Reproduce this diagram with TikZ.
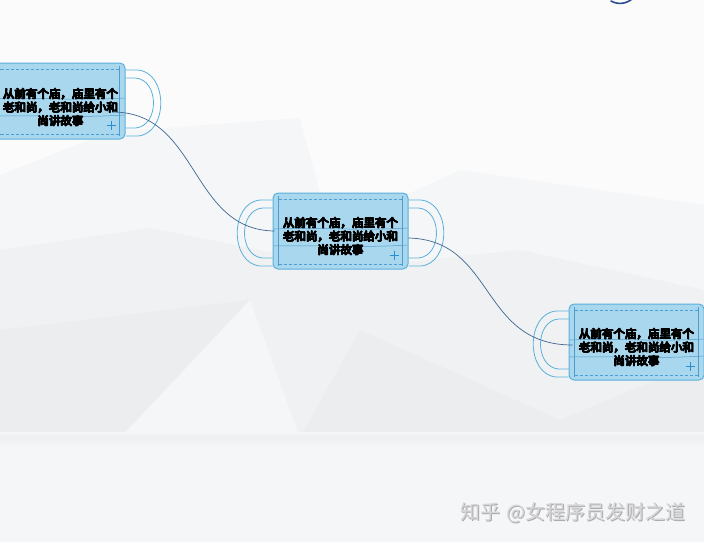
\documentclass[tikz,border=0pt]{standalone}
\usepackage{fontspec}
\setmainfont{Noto Sans CJK SC}
\newfontfamily\maskfont{Noto Sans CJK SC}[FakeBold=4]
\usetikzlibrary{calc}
\newcommand\heavytext[1]{\rlap{#1}\rlap{\raisebox{0.4pt}{#1}}\rlap{\hspace{0.25pt}\raisebox{0.2pt}{#1}}\kern0.5pt#1}
\definecolor{maskfill}{HTML}{A9D7EE}
\definecolor{maskline}{HTML}{5AB0DC}
\definecolor{dashc}{HTML}{4A9FD4}
\definecolor{pleatc}{HTML}{4F9CCB}
\definecolor{plusc}{HTML}{2A8FD0}
\definecolor{linkc}{HTML}{3E6690}
\definecolor{bgtop}{HTML}{FBFBFC}
\definecolor{bgA}{HTML}{F5F6F7}
\definecolor{bgB}{HTML}{F0F1F2}
\definecolor{bgC}{HTML}{ECEDEF}
\definecolor{bgbottom}{HTML}{F5F6F8}
\definecolor{logoc}{HTML}{2A4A90}
\definecolor{wmc}{HTML}{D6D6D8}
\definecolor{wmshadow}{HTML}{ABABAD}
\newcommand\maskdeco[1]{%
  \begin{scope}[shift={(#1.center)}]
    \draw[dashln] (-62,-32) -- (62,-32);
    \draw[dashln] (-62,33) -- (62,33);
    \draw[pleat] (-62,-35) -- (-62,35);
    \draw[pleat] (62,-35) -- (62,35);
    \draw[pleat] (-67,-2) .. controls (-20,-4) and (20,0) .. (67,-3);
    \draw[pleat] (-67,15) .. controls (-20,14) and (20,17) .. (67,14);
    \draw[plusline] (49,24) -- (58,24);
    \draw[plusline] (53.5,19.5) -- (53.5,28.5);
  \end{scope}}
\newcommand\earpath{%
  \draw[ear] (0,-31) -- (12,-31) .. controls (43,-29) and (43,33) .. (12,35) -- (0,35);
  \draw[ear] (0,-23) -- (10,-23) .. controls (34,-21) and (34,25) .. (10,27) -- (0,27);}
\newcommand\rightear[1]{\begin{scope}[shift={(#1.east)}]\earpath\end{scope}}
\newcommand\leftear[1]{\begin{scope}[shift={(#1.west)},xscale=-1]\earpath\end{scope}}
\newcommand\storytext{\heavytext{从前有个庙，庙里有个}\\\heavytext{老和尚，老和尚给小和}\\\heavytext{尚讲故事}}
\begin{document}
\begin{tikzpicture}[x=1pt,y=-1pt,
  maskbody/.style={draw=maskline, line width=1pt, fill=maskfill, rounded corners=5pt,
    minimum width=135pt, minimum height=76pt, inner sep=0pt},
  masktext/.style={font=\maskfont\fontsize{11.5}{13.5}\selectfont, align=center, inner sep=0pt, text=black},
  ear/.style={draw=maskline, line width=0.8pt},
  dashln/.style={draw=dashc, dash pattern=on 3pt off 2pt, line width=0.6pt},
  pleat/.style={draw=pleatc, line width=0.5pt},
  plusline/.style={draw=plusc, line width=1pt},
  link/.style={draw=linkc, line width=0.7pt},
]
\useasboundingbox (0,0) rectangle (704,542);
\clip (0,0) rectangle (704,542);
% background
\fill[bgbottom] (0,0) rectangle (704,542);
\fill[bgtop] (0,0) rectangle (704,438);
\fill[bgA] (0,175) -- (110,132) -- (300,118) -- (460,170) -- (704,205) -- (704,438) -- (0,438) -- cycle;
\fill[bgB] (0,250) -- (150,228) -- (350,268) -- (520,250) -- (704,290) -- (704,438) -- (0,438) -- cycle;
\fill[bgC] (0,330) -- (250,300) -- (120,438) -- (0,438) -- cycle;
\fill[bgC] (360,330) -- (560,420) -- (704,360) -- (704,438) -- (300,438) -- cycle;
\fill[bgA] (120,438) -- (250,300) -- (300,438) -- cycle;
\fill[white!60!bgA] (300,118) -- (460,170) -- (330,230) -- cycle;
\shade[top color=bgbottom, bottom color=bgbottom!92!gray] (0,432) rectangle (704,438);
\shade[top color=bgbottom!94!gray, bottom color=bgbottom] (0,438) rectangle (704,446);
% logo arc
\draw[logoc, line width=1.6pt, line cap=round] (611,1) .. controls (618,5) and (627,4) .. (633,-2);
% masks
\node[maskbody] (m1) at (57.5,101) {};
\node[maskbody] (m2) at (340.5,231) {};
\node[maskbody] (m3) at (636.5,342) {};
\maskdeco{m1}
\maskdeco{m2}
\maskdeco{m3}
\rightear{m1}
\leftear{m2}
\rightear{m2}
\leftear{m3}
\node[masktext] (t1) at ($(m1.center)+(3,6)$) {\storytext};
\node[masktext] (t2) at ($(m2.center)+(0,5)$) {\storytext};
\node[masktext] (t3) at ($(m3.center)+(0,5)$) {\storytext};
% connectors
\draw[link] ($(m1.center)+(55,11)$) .. controls ($(m1.center)+(142,11)$) and ($(m2.west)+(-83,-1)$) .. ($(m2.west)+(2,0)$);
\draw[link] ($(m2.east)+(0,7)$) .. controls ($(m2.east)+(87,9)$) and ($(m3.west)+(-89,3)$) .. ($(m3.west)+(4,3)$);
% watermark
\node[font=\fontsize{20}{20}\selectfont, text=wmshadow, inner sep=0pt] (wms) at (573.8,513.8) {知乎\hspace{6pt}@女程序员发财之道};
\node[font=\fontsize{20}{20}\selectfont, text=wmc, inner sep=0pt] (wm) at (573,513) {知乎\hspace{6pt}@女程序员发财之道};
\end{tikzpicture}
\end{document}
